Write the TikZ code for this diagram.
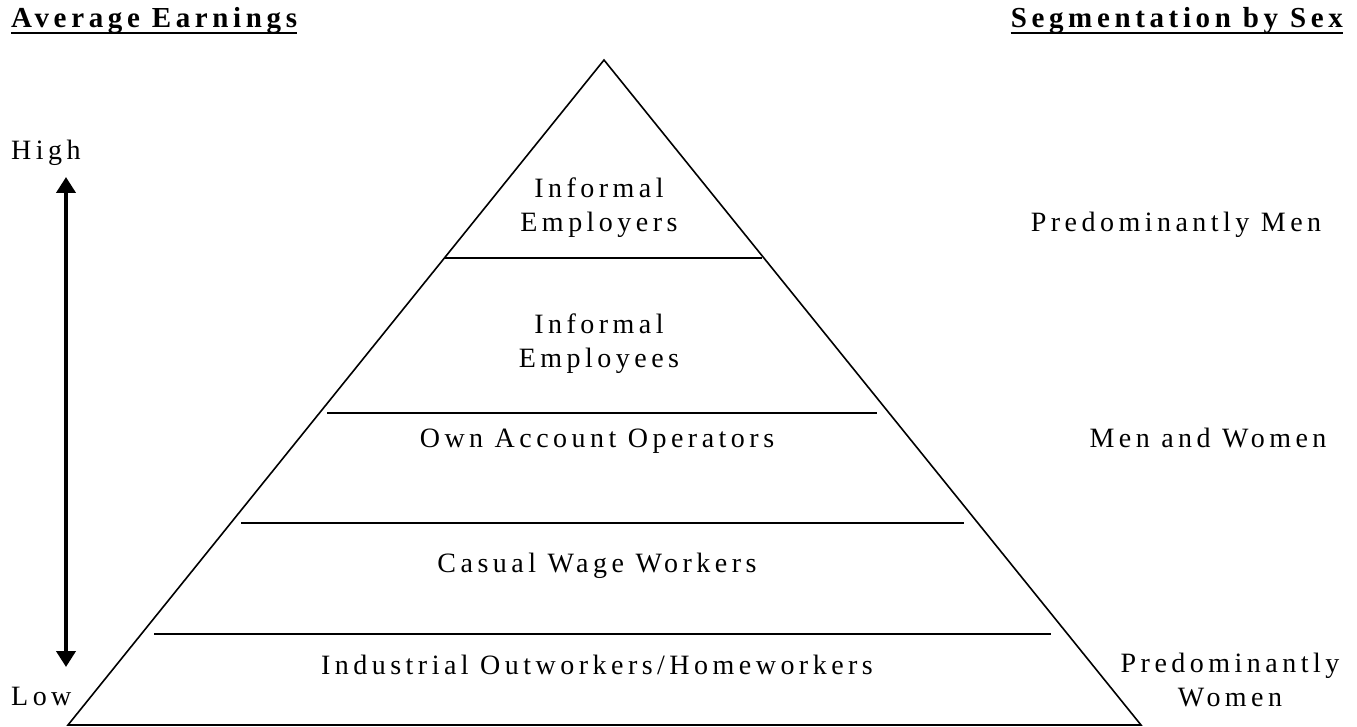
\documentclass[tikz,border=0pt]{standalone}
\usepackage{fontspec}
\setmainfont{Liberation Serif}[LetterSpace=16]
\usetikzlibrary{arrows.meta}
\begin{document}
\begin{tikzpicture}[x=1pt,y=-1pt,
  lbl/.style={inner sep=0pt, font=\fontsize{28}{34}\selectfont},
  ttl/.style={inner sep=0pt, font=\fontsize{29}{34}\selectfont\bfseries},
  edgeline/.style={line width=1.6pt, line join=miter},
  tierline/.style={line width=1.6pt},
  uline/.style={line width=2.6pt},
  bigarrow/.style={line width=4.5pt, {Triangle[width=19pt,length=16pt]}-{Triangle[width=19pt,length=16pt]}}]
\useasboundingbox (0,0) rectangle (1357,727);
% pyramid
\coordinate (apex) at (604,60);
\coordinate (bl) at (68,725);
\coordinate (br) at (1141,725);
\draw[edgeline] (bl) -- (apex) -- (br) -- cycle;
% tier lines
\coordinate (l1a) at (445,258); \coordinate (l1b) at (762,258);
\coordinate (l2a) at (327,413); \coordinate (l2b) at (877,413);
\coordinate (l3a) at (241,523); \coordinate (l3b) at (964,523);
\coordinate (l4a) at (154,634); \coordinate (l4b) at (1051,634);
\draw[tierline] (l1a) -- (l1b);
\draw[tierline] (l2a) -- (l2b);
\draw[tierline] (l3a) -- (l3b);
\draw[tierline] (l4a) -- (l4b);
% tier labels
\node[lbl, align=center, anchor=center] (t1) at (599,208) {Informal\\Employers};
\node[lbl, align=center, anchor=center] (t2) at (599,344) {Informal\\Employees};
\node[lbl, anchor=base] (t3) at (597,447) {Own Account Operators};
\node[lbl, anchor=base] (t4) at (597,572) {Casual Wage Workers};
\node[lbl, anchor=base] (t5) at (597,674) {Industrial Outworkers/Homeworkers};
% titles
\node[ttl, anchor=base west] (avg) at (11,28) {Average Earnings};
\node[ttl, anchor=base east] (seg) at (1343,28) {Segmentation by Sex};
\draw[uline] ([yshift=-5pt]avg.base west) -- ([yshift=-5pt]avg.base east);
\draw[uline] ([yshift=-5pt]seg.base west) -- ([yshift=-5pt]seg.base east);
% left axis
\node[lbl, anchor=base west] (high) at (11,160) {High};
\node[lbl, anchor=base west] (low) at (11,705) {Low};
\coordinate (atop) at (66,177);
\coordinate (abot) at (66,667);
\draw[bigarrow] (atop) -- (abot);
% right labels
\node[lbl, anchor=base] (men) at (1176,232) {Predominantly Men};
\node[lbl, anchor=base] (mw) at (1208,447) {Men and Women};
\node[lbl, align=center, anchor=center] (wom) at (1230,680) {Predominantly\\Women};
\end{tikzpicture}
\end{document}
